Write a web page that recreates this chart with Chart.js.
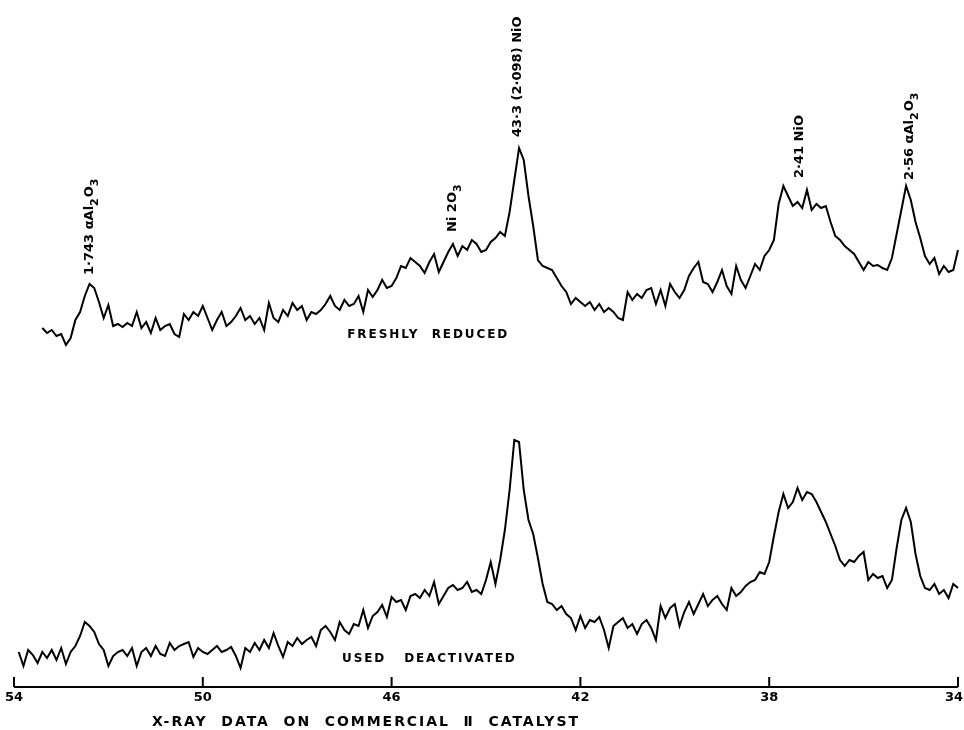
<!DOCTYPE html>
<html>
<head>
<meta charset="utf-8">
<title>X-ray data on commercial II catalyst</title>
<script src="https://cdn.jsdelivr.net/npm/chart.js@4.4.1/dist/chart.umd.min.js"></script>
<style>
  html, body { margin: 0; padding: 0; background: #fff; }
  canvas { display: block; }
</style>
</head>
<body>
<canvas id="xrd" width="964" height="730"></canvas>
<script>
// 2-theta (degrees) of the first point of each trace, and the sampling step
const topStart = 53.4;
const bottomStart = 53.9;
const step = 0.1;

// intensities (arbitrary units, both traces on one stacked scale)
const freshlyReduced = [
  359, 354, 357, 351, 353, 342, 349, 367, 375, 391, 403, 399, 385, 369, 382, 361, 363, 360, 364, 361,
  375, 359, 365, 354, 369, 357, 361, 363, 353, 350, 373, 367, 375, 371, 381, 369, 357, 367, 375, 361,
  365, 371, 379, 367, 371, 363, 369, 357, 384, 369, 365, 377, 371, 384, 377, 381, 367, 375, 373, 377,
  383, 391, 381, 377, 387, 381, 383, 391, 375, 397, 390, 397, 407, 399, 401, 409, 421, 419, 429, 425,
  421, 414, 425, 433, 415, 425, 435, 443, 431, 441, 437, 447, 443, 435, 437, 445, 449, 455, 451, 475,
  507, 539, 527, 491, 461, 427, 421, 419, 417, 409, 401, 395, 383, 389, 385, 381, 385, 377, 383, 375,
  379, 375, 369, 367, 395, 387, 393, 389, 397, 399, 383, 397, 381, 403, 395, 389, 397, 411, 419, 425,
  405, 403, 395, 405, 417, 401, 393, 421, 407, 399, 411, 423, 417, 431, 437, 447, 483, 501, 491, 481,
  485, 479, 497, 477, 483, 479, 481, 465, 451, 447, 441, 437, 433, 425, 417, 425, 421, 422, 419, 417,
  429, 453, 477, 501, 487, 465, 449, 431, 423, 429, 413, 421, 415, 417, 437
];

const usedDeactivated = [
  35, 21, 37, 32, 24, 35, 29, 37, 27, 39, 23, 35, 41, 51, 65, 61, 55, 43, 37, 21,
  31, 35, 37, 31, 39, 21, 35, 39, 31, 41, 33, 31, 44, 37, 41, 43, 45, 30, 39, 35,
  33, 37, 41, 35, 37, 40, 31, 19, 39, 35, 44, 37, 47, 39, 54, 41, 30, 45, 41, 49,
  43, 47, 50, 41, 57, 61, 55, 47, 65, 57, 53, 63, 61, 77, 59, 71, 75, 82, 70, 90,
  85, 87, 77, 91, 93, 89, 97, 91, 105, 83, 91, 99, 102, 97, 99, 105, 95, 97, 93, 107,
  125, 103, 127, 157, 197, 247, 245, 197, 167, 153, 129, 103, 85, 83, 77, 81, 73, 69, 57, 71,
  59, 67, 65, 70, 57, 39, 61, 65, 69, 59, 63, 53, 63, 67, 59, 47, 81, 69, 79, 83,
  61, 75, 85, 73, 83, 93, 81, 87, 91, 83, 77, 99, 91, 95, 101, 105, 107, 115, 113, 125,
  151, 175, 193, 179, 185, 199, 187, 195, 193, 185, 175, 165, 153, 141, 127, 121, 127, 125, 131, 135,
  107, 113, 109, 111, 99, 107, 139, 167, 179, 165, 133, 111, 99, 97, 103, 93, 97, 89, 103, 99
];

// axis ticks
const tickValues = [54, 50, 46, 42, 38, 34];

// peak annotations: 2-theta, intensity where the text starts, text ("_n" = subscript)
const peakLabels = [
  { x: 52.39, y: 412, text: '1·743 αAl_2O_3' },
  { x: 44.70, y: 455, text: 'Ni 2O_3' },
  { x: 43.32, y: 550, text: '43·3 (2·098) NiO' },
  { x: 37.35, y: 509, text: '2·41 NiO' },
  { x: 35.02, y: 507, text: '2·56 αAl_2O_3' }
];

// trace names, written under each trace (from/to in 2-theta)
const traceNames = [
  { from: 46.94, to: 43.55, y: 352, text: 'FRESHLY  REDUCED' },
  { from: 47.05, to: 43.39, y: 28, text: 'USED   DEACTIVATED' }
];

const axisTitle = 'X-RAY  DATA  ON  COMMERCIAL  Ⅱ  CATALYST';

const toPoints = (values, start) =>
  values.map((v, i) => ({ x: +(start - i * step).toFixed(2), y: v }));

const lettering = '"DejaVu Sans", sans-serif';

// writes text with "_n" subscripts, starting at (0,0) of the current frame
function writeWithSubscripts(ctx, text) {
  const parts = text.split(/(_\d)/).filter(s => s.length);
  let pos = 0;
  parts.forEach(part => {
    if (part[0] === '_') {
      ctx.font = 'bold 11px ' + lettering;
      ctx.fillText(part.slice(1), pos, 5);
      pos += ctx.measureText(part.slice(1)).width + 1;
    } else {
      ctx.font = 'bold 13px ' + lettering;
      ctx.fillText(part, pos, 0);
      pos += ctx.measureText(part).width;
    }
  });
}

// spreads the letters so the text fills the given width (stencil lettering look)
function writeSpread(ctx, text, x, y, width) {
  ctx.letterSpacing = '0px';
  const w0 = ctx.measureText(text).width;
  const gap = Math.max(0, (width - w0) / (text.length - 1));
  ctx.letterSpacing = gap.toFixed(2) + 'px';
  ctx.fillText(text, x, y);
  ctx.letterSpacing = '0px';
}

// draws the bottom axis with inward ticks, the labels and the annotations
const drawing = {
  id: 'drawing',
  afterDatasetsDraw(chart) {
    const { ctx, chartArea, scales } = chart;
    const xs = scales.x, ys = scales.y;
    const base = chartArea.bottom;
    ctx.save();
    ctx.strokeStyle = '#000';
    ctx.fillStyle = '#000';

    // axis line
    ctx.lineWidth = 2;
    ctx.beginPath();
    ctx.moveTo(xs.getPixelForValue(54), base);
    ctx.lineTo(xs.getPixelForValue(34), base);
    ctx.stroke();

    // ticks pointing up, and labels
    ctx.font = 'bold 13px ' + lettering;
    ctx.textBaseline = 'middle';
    ctx.textAlign = 'left';
    tickValues.forEach(t => {
      const px = xs.getPixelForValue(t);
      ctx.beginPath();
      ctx.moveTo(px, base);
      ctx.lineTo(px, base - 10);
      ctx.stroke();
      const w = ctx.measureText(String(t)).width;
      const left = Math.min(Math.max(px - w / 2, 5), chart.width - w - 1);
      ctx.fillText(String(t), left, base + 11);
    });

    // axis title
    ctx.font = 'bold 14px ' + lettering;
    writeSpread(ctx, axisTitle, 152, base + 35, 426);

    // trace names
    ctx.font = 'bold 12px ' + lettering;
    traceNames.forEach(n => {
      const x0 = xs.getPixelForValue(n.from);
      const x1 = xs.getPixelForValue(n.to);
      writeSpread(ctx, n.text, x0, ys.getPixelForValue(n.y), x1 - x0);
    });

    // rotated peak labels
    peakLabels.forEach(p => {
      ctx.save();
      ctx.translate(xs.getPixelForValue(p.x), ys.getPixelForValue(p.y));
      ctx.rotate(-Math.PI / 2);
      writeWithSubscripts(ctx, p.text);
      ctx.restore();
    });
    ctx.restore();
  }
};

const ctx = document.getElementById('xrd').getContext('2d');
new Chart(ctx, {
  type: 'line',
  data: {
    datasets: [
      {
        label: 'Freshly reduced',
        data: toPoints(freshlyReduced, topStart),
        borderColor: '#000',
        borderWidth: 2,
        pointRadius: 0,
        tension: 0,
        clip: false
      },
      {
        label: 'Used deactivated',
        data: toPoints(usedDeactivated, bottomStart),
        borderColor: '#000',
        borderWidth: 2,
        pointRadius: 0,
        tension: 0,
        clip: false
      }
    ]
  },
  options: {
    responsive: false,
    animation: false,
    devicePixelRatio: 1,
    layout: { padding: { left: 14, right: 6, top: 0, bottom: 43 } },
    scales: {
      x: { type: 'linear', min: 34, max: 54, reverse: true, display: false },
      y: { min: 0, max: 687, display: false }
    },
    plugins: {
      legend: { display: false },
      tooltip: { enabled: false }
    }
  },
  plugins: [drawing]
});
</script>
</body>
</html>
